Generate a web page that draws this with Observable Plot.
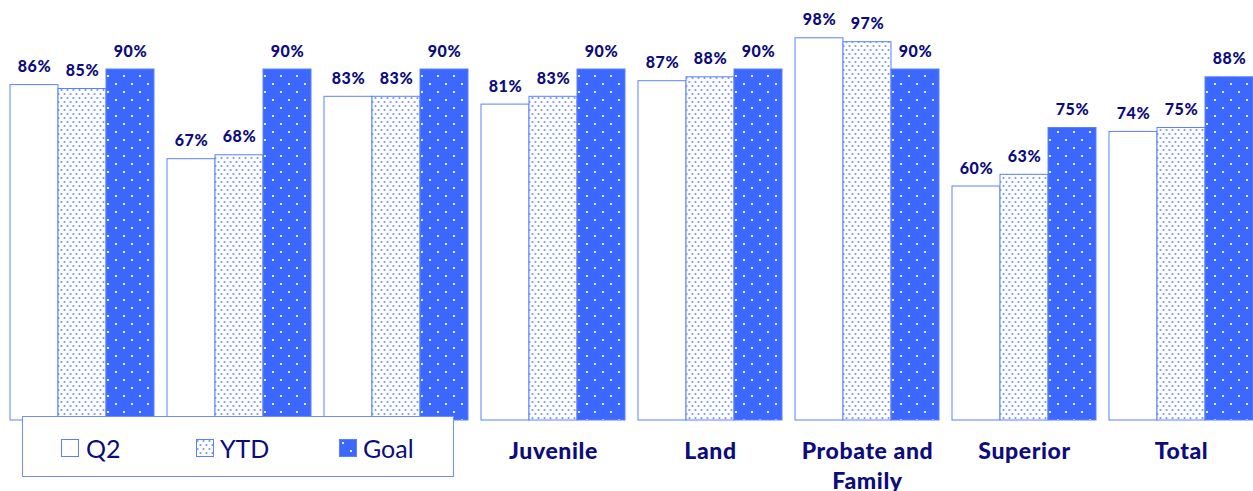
<!DOCTYPE html>
<html><head><meta charset="utf-8">
<script src="https://cdn.jsdelivr.net/npm/d3@7"></script>
<script src="https://cdn.jsdelivr.net/npm/@observablehq/plot@0.6"></script>
<style>
body{margin:0;background:#fff;}
#wrap{position:relative;width:1253px;height:491px;overflow:hidden;}
#legend{position:absolute;left:22px;top:416px;width:432px;height:61px;border:1.5px solid #6f8fff;background:#fff;box-sizing:border-box;font-family:Lato,sans-serif;color:#0c0c7c;}
#legend .sw{position:absolute;top:22px;width:18px;height:18px;}
#legend .lb{position:absolute;top:19px;font-size:25px;line-height:24px;font-weight:400;}
.vlab text{letter-spacing:0.6px;}
.fxax text{letter-spacing:0.6px;}
</style></head>
<body>
<svg width="0" height="0" style="position:absolute">
  <defs>
    <pattern id="pYTD" width="6" height="8" patternUnits="userSpaceOnUse">
      <rect width="6" height="8" fill="#fff"/>
      <circle cx="1.5" cy="2" r="1.1" fill="#7393ff"/>
      <circle cx="4.5" cy="6" r="1.1" fill="#7393ff"/>
    </pattern>
    <pattern id="pGoal" width="16" height="16" patternUnits="userSpaceOnUse">
      <rect width="16" height="16" fill="#3d68ff"/>
      <rect x="3" y="3" width="2" height="2" fill="#fff" opacity="0.9"/>
      <rect x="11" y="11" width="2" height="2" fill="#fff" opacity="0.9"/>
    </pattern>
  </defs>
</svg>
<div id="wrap"></div>
<script>
const categories = ["BMC","District","Housing","Juvenile","Land","Probate and Family","Superior","Total"];
// first three tick labels are hidden behind the legend in the reference
const tickLabels = ["","","","Juvenile","Land","Probate and\nFamily","Superior","Total"];
const series = ["Q2","YTD","Goal"];
const q2 = [86,67,83,81,87,98,60,74];
const ytd = [85,68,83,83,88,97,63,75];
const goal = [90,90,90,90,90,90,75,88];
const fills = ["#ffffff","url(#pYTD)","url(#pGoal)"];

const values = {Q2:q2, YTD:ytd, Goal:goal};
const rows = [];
categories.forEach((c,i)=>series.forEach(s=>rows.push({category:c, series:s, value:values[s][i]})));

const chart = Plot.plot({
  width:1253, height:491,
  marginTop:30, marginBottom:71, marginLeft:10, marginRight:0,
  style:{fontFamily:"Lato, sans-serif", color:"#0c0c7c", background:"#fff"},
  fx:{domain:categories, paddingInner:0.083, paddingOuter:0, label:null},
  x:{domain:series, padding:0, axis:null},
  y:{domain:[0,100], axis:null},
  color:{domain:series, range:fills},
  marks:[
    Plot.barY(rows,{fx:"category", x:"series", y:"value", fill:"series", stroke:"#5b80ff", strokeWidth:1, inset:0}),
    Plot.text(rows,{fx:"category", x:"series", y:"value", text:d=>d.value+"%", lineAnchor:"bottom", dy:-13, fontSize:16, fontWeight:900, fill:"#0c0c7c", className:"vlab"}),
    Plot.axisFx({anchor:"bottom", tickSize:0, tickPadding:17, fontSize:23, fontWeight:900, lineHeight:1.3, label:null, className:"fxax",
      tickFormat:d=>tickLabels[categories.indexOf(d)]})
  ]
});
const wrap = document.getElementById("wrap");
wrap.appendChild(chart);

const legend = document.createElement("div");
legend.id = "legend";
const items = [
  {name:"Q2", sw:38, lb:63},
  {name:"YTD", sw:173, lb:197},
  {name:"Goal", sw:316, lb:340}
];
items.forEach((it,i)=>{
  const sw = document.createElementNS("http://www.w3.org/2000/svg","svg");
  sw.setAttribute("class","sw");
  sw.setAttribute("width",18); sw.setAttribute("height",18);
  sw.style.left = it.sw+"px";
  const r = document.createElementNS("http://www.w3.org/2000/svg","rect");
  r.setAttribute("x",0.5); r.setAttribute("y",0.5); r.setAttribute("width",17); r.setAttribute("height",17);
  r.setAttribute("fill",fills[i]); r.setAttribute("stroke","#5b80ff");
  sw.appendChild(r);
  legend.appendChild(sw);
  const lb = document.createElement("span");
  lb.className="lb"; lb.style.left = it.lb+"px"; lb.textContent = it.name;
  legend.appendChild(lb);
});
wrap.appendChild(legend);
</script>
</body></html>
